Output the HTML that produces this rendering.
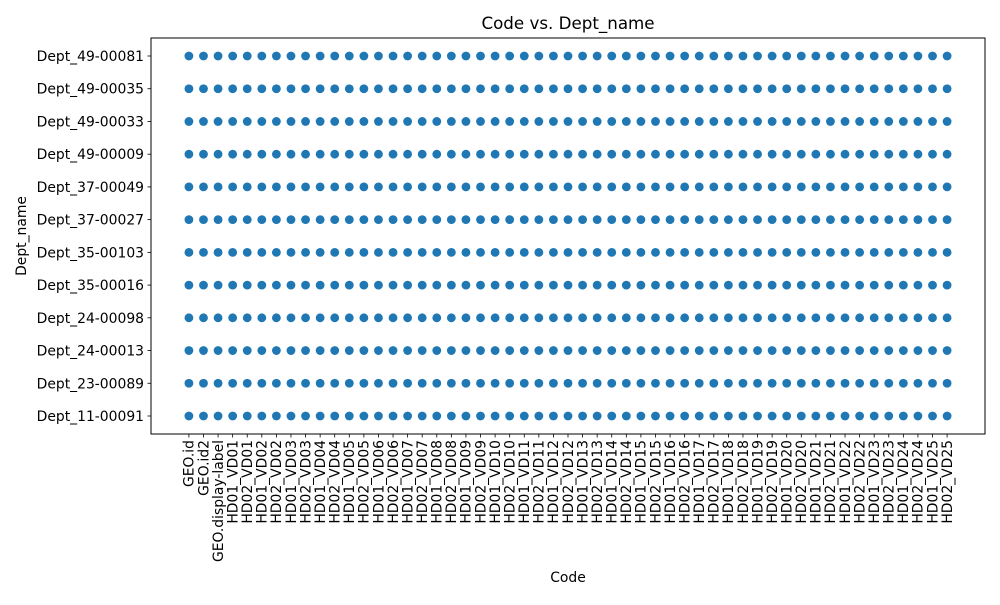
<!DOCTYPE html>
<html><head><meta charset="utf-8"><style>
body{margin:0;background:#fff}
text{font-family:"DejaVu Sans","Liberation Sans",sans-serif;fill:#000}
</style></head><body>
<svg id="chart" width="1000" height="600" xmlns="http://www.w3.org/2000/svg">
<rect width="1000" height="600" fill="#fff"/>
<g id="axes"></g>
</svg>
<script>
const xCategories = ["GEO.id","GEO.id2","GEO.display-label"];
for (let i=1;i<=25;i++){const n=String(i).padStart(2,'0');xCategories.push("HD01_VD"+n);xCategories.push("HD02_VD"+n);}
const yCategories = ["Dept_11-00091","Dept_23-00089","Dept_24-00013","Dept_24-00098","Dept_35-00016","Dept_35-00103","Dept_37-00027","Dept_37-00049","Dept_49-00009","Dept_49-00033","Dept_49-00035","Dept_49-00081"];
const pointsX = [], pointsY = [];
for (const yc of yCategories) for (const xc of xCategories){pointsX.push(xc);pointsY.push(yc);}

const L=151,R=985,T=38,B=434;
const nx=xCategories.length, ny=yCategories.length;
const xs=i=>{const span=(nx-1)*1.1;return L+(i+(nx-1)*0.05)/span*(R-L);};
const ys=j=>{const span=(ny-1)*1.1;return B-(j+(ny-1)*0.05)/span*(B-T);};
const NS="http://www.w3.org/2000/svg";
const g=document.getElementById('axes');
function mk(t,a,txt){const e=document.createElementNS(NS,t);for(const k in a)e.setAttribute(k,a[k]);if(txt!==undefined)e.textContent=txt;g.appendChild(e);return e;}

for(let k=0;k<pointsX.length;k++){
 const c=mk('circle',{cx:xs(xCategories.indexOf(pointsX[k])),cy:ys(yCategories.indexOf(pointsY[k])),r:4.4,fill:'#1f77b4'});
 
 
}
const frame=mk('rect',{x:L,y:T,width:R-L,height:B-T,fill:'none',stroke:'#000','stroke-width':1});


xCategories.forEach((c,i)=>{
 const x=xs(i);
 mk('line',{x1:x,x2:x,y1:B,y2:B+3.5,stroke:'#000','stroke-width':0.8});
 const t=mk('text',{x:0,y:0,'font-size':13.9,'text-anchor':'end',transform:`translate(${x+4.8},${B+6}) rotate(-90)`},c);
 
 
});
yCategories.forEach((c,j)=>{
 const y=ys(j);
 mk('line',{x1:L-3.5,x2:L,y1:y,y2:y,stroke:'#000','stroke-width':0.8});
 const t=mk('text',{x:L-7,y:y+5,'font-size':13.9,'text-anchor':'end'},c);
 
 
});
const title=mk('text',{x:(L+R)/2,y:29,'font-size':16.7,'text-anchor':'middle'},"Code vs. Dept_name");


const xt=mk('text',{x:(L+R)/2,y:582,'font-size':13.9,'text-anchor':'middle'},"Code");


const yt=mk('text',{x:0,y:0,'font-size':13.9,'text-anchor':'middle',transform:`translate(26,${(T+B)/2}) rotate(-90)`},"Dept_name");


</script>
</body></html>
